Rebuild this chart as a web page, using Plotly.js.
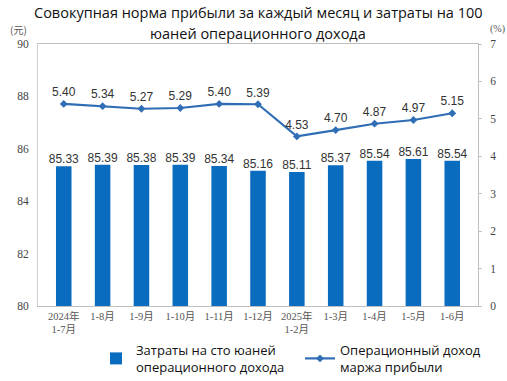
<!DOCTYPE html>
<html><head><meta charset="utf-8">
<script src="https://cdn.plot.ly/plotly-3.0.1.min.js"></script>
<style>html,body{margin:0;padding:0;background:#fff}#chart{width:507px;height:381px}</style>
</head><body><div id="chart"></div>
<script>
const categories = ["2024年<br>1-7月","1-8月","1-9月","1-10月","1-11月","1-12月","2025年<br>1-2月","1-3月","1-4月","1-5月","1-6月"];
const costPer100 = [85.33,85.39,85.38,85.39,85.34,85.16,85.11,85.37,85.54,85.61,85.54];
const profitMargin = [5.40,5.34,5.27,5.29,5.40,5.39,4.53,4.70,4.87,4.97,5.15];
const leftTicks = [80,82,84,86,88,90];
const rightTicks = [0,1,2,3,4,5,6,7];
const titleLines = ["Совокупная норма прибыли за каждый месяц и затраты на 100", "юаней операционного дохода"];

const serif = "Liberation Serif, DejaVu Serif, Noto Sans CJK SC";
const sans = "Liberation Sans, Arial, Noto Sans";
const titleFont = "Open Sans, Noto Sans";

const traces = [
  {
    type: "bar", x: categories, y: costPer100, legend: "legend",
    name: "Затраты на сто юаней<br>операционного дохода",
    marker: {color: "#0a6cbf"}, width: 0.4, hoverinfo: "none"
  },
  {
    type: "scatter", mode: "text", x: categories, y: costPer100, showlegend: false,
    text: costPer100.map(v => v.toFixed(2)), textposition: "top center",
    textfont: {family: sans, size: 12, color: "#333"}, cliponaxis: false, hoverinfo: "none"
  },
  {
    type: "scatter", mode: "lines+markers+text", x: categories, y: profitMargin, yaxis: "y2", legend: "legend2",
    name: "Операционный доход<br>маржа прибыли",
    line: {color: "#2f6db5", width: 2.2},
    marker: {symbol: "diamond", size: 6, color: "#2f6db5"},
    text: profitMargin.map(v => v.toFixed(2)), textposition: "top center",
    textfont: {family: sans, size: 12, color: "#333"},
    cliponaxis: false, hoverinfo: "none"
  }
];

const legendCommon = {
  orientation: "h", xref: "container", yref: "container", xanchor: "left", yanchor: "top",
  font: {family: titleFont, size: 13, color: "#111"}, itemwidth: 30, bgcolor: "rgba(0,0,0,0)"
};

const layout = {
  width: 507, height: 381,
  margin: {l: 38, r: 29, t: 44, b: 75},
  paper_bgcolor: "#fff", plot_bgcolor: "#fff",
  showlegend: true,
  xaxis: {
    type: "category", showline: true, linecolor: "#bfbfbf", mirror: true,
    ticks: "", tickfont: {family: serif, size: 10.5, color: "#555"}, showgrid: false
  },
  yaxis: {
    range: [80, 90], tickvals: leftTicks, ticks: "", showgrid: false,
    showline: true, linecolor: "#d0d0d0", zeroline: false,
    tickfont: {family: serif, size: 11.5, color: "#444"}, ticklabelstandoff: 6
  },
  yaxis2: {
    overlaying: "y", side: "right", range: [0, 7], tickvals: rightTicks,
    ticks: "outside", ticklen: 3, tickcolor: "#bfbfbf", showgrid: false, zeroline: false,
    showline: true, linecolor: "#bfbfbf",
    tickfont: {family: serif, size: 11.5, color: "#444"}, ticklabelstandoff: 6
  },
  legend: Object.assign({}, legendCommon, {x: 96/507, y: 1 - 335/381}),
  legend2: Object.assign({}, legendCommon, {x: 300/507, y: 1 - 335/381}),
  annotations: [
    {text: titleLines[0], xref: "paper", yref: "paper", x: 0.5, y: 1.0, yshift: 32, xanchor: "center", yanchor: "middle",
     showarrow: false, font: {family: titleFont, size: 14.5, color: "#111"}},
    {text: titleLines[1], xref: "paper", yref: "paper", x: 0.5, y: 1.0, yshift: 11, xanchor: "center", yanchor: "middle",
     showarrow: false, font: {family: titleFont, size: 14.5, color: "#111"}},
    {text: "(元)", xref: "paper", yref: "paper", x: -0.045, y: 1.0, yshift: 15, xanchor: "center", yanchor: "middle",
     showarrow: false, font: {family: "Noto Sans CJK SC", size: 10, color: "#555"}},
    {text: "(%)", xref: "paper", yref: "paper", x: 1.045, y: 1.0, yshift: 15, xanchor: "center", yanchor: "middle",
     showarrow: false, font: {family: serif, size: 10, color: "#555"}}
  ],
  bargap: 0.6
};

Plotly.newPlot("chart", traces, layout, {displayModeBar: false, staticPlot: true});
</script></body></html>
